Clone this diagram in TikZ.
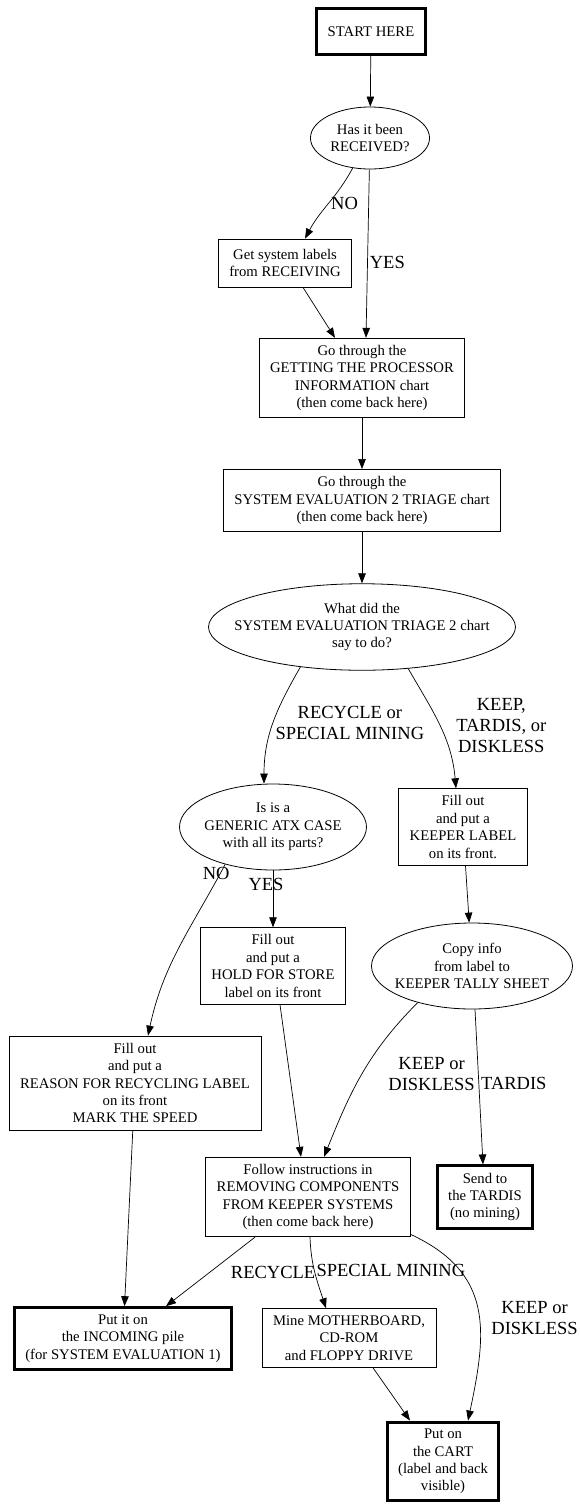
\documentclass[tikz,border=0pt]{standalone}
\usepackage{fontspec}
\setmainfont{Liberation Serif}
\usetikzlibrary{arrows.meta}
\usetikzlibrary{shapes.geometric}
\tikzstyle{ndbox} = [draw, line width=0.8pt, shape=rectangle, align=center, inner xsep=11pt, inner ysep=7pt, minimum height=48pt, font=\fontsize{14.7}{17.4}\selectfont]
\tikzstyle{ndend} = [ndbox, line width=3pt]
\tikzstyle{ndask} = [draw, line width=0.8pt, shape=ellipse, align=center, inner xsep=0pt, inner ysep=6.5pt, font=\fontsize{14.7}{17.4}\selectfont]
\tikzstyle{tuh} = [style={-{Triangle[length=10pt,width=7.5pt]},line width=0.7pt}]
\tikzstyle{lbl} = [align=center, inner sep=2pt, font=\fontsize{18.5}{21}\selectfont]

\begin{document}
\begin{tikzpicture}[x=1pt,y=1pt]
        \useasboundingbox (0,0) rectangle (579,-1508);
        \node[ndend, minimum width=109pt, minimum height=46pt] (start) at (371,-31.5) {START HERE};
        \node[ndask, minimum width=119pt, minimum height=62pt, inner xsep=2.5pt] (received) at (370,-138) {Has it been\\RECEIVED?};
        \node[ndbox] (getlbl) at (285,-263) {Get system labels\\from RECEIVING};
        \node[ndbox] (getting) at (362,-378) {Go through the\\GETTING THE PROCESSOR\\INFORMATION chart\\(then come back here)};
        \node[ndbox] (sevtri) at (362,-500.5) {Go through the\\SYSTEM EVALUATION 2 TRIAGE chart\\(then come back here)};
        \node[ndask, minimum width=307pt, minimum height=86pt, inner xsep=-21pt] (whatdo) at (362,-627) {What did the\\SYSTEM EVALUATION TRIAGE 2 chart\\say to do?};
        \node[ndask, minimum width=187pt, minimum height=86pt, inner xsep=-3.5pt] (atxcase) at (273,-827) {Is is a\\GENERIC ATX CASE\\with all its parts?};
        \node[ndbox] (keeplbl) at (463,-827) {Fill out\\and put a\\KEEPER LABEL\\on its front.};
        \node[ndbox] (holdlbl) at (273,-966) {Fill out\\and put a\\HOLD FOR STORE\\label on its front};
        \node[ndask, minimum width=201pt, minimum height=86pt, inner xsep=-11pt] (tally) at (472,-966) {Copy info\\from label to\\KEEPER TALLY SHEET};
        \node[ndbox] (reason) at (135,-1083) {Fill out\\and put a\\REASON FOR RECYCLING LABEL\\on its front\\MARK THE SPEED};
        \node[ndbox] (follow) at (308,-1197) {Follow instructions in\\REMOVING COMPONENTS\\FROM KEEPER SYSTEMS\\(then come back here)};
        \node[ndend] (tardis) at (485,-1197) {Send to\\the TARDIS\\(no mining)};
        \node[ndend] (incoming) at (123,-1338.5) {Put it on\\the INCOMING pile\\(for SYSTEM EVALUATION 1)};
        \node[ndbox] (mine) at (349,-1338) {Mine MOTHERBOARD,\\CD-ROM\\and FLOPPY DRIVE};
        \node[ndend] (cart) at (443,-1461.5) {Put on\\the CART\\(label and back\\visible)};
        % connectors
        \draw[tuh] (start) -- (received);
        \draw[tuh] (received.-120) to[out=-118,in=62] node[lbl,right,pos=.5] {NO} ([xshift=20pt]getlbl.north);
        \draw[tuh] (received) -- node[lbl,right,pos=.55] {YES} ([xshift=4pt]getting.north);
        \draw[tuh] ([xshift=18pt]getlbl.south) -- ([xshift=-27pt]getting.north);
        \draw[tuh] (getting) -- (sevtri);
        \draw[tuh] (sevtri) -- (whatdo);
        \draw[tuh] (whatdo.-147) to[out=-120,in=90] node[lbl,right,pos=.5] {RECYCLE or\\SPECIAL MINING} ([xshift=-9pt]atxcase.north);
        \draw[tuh] (whatdo.-42) to[out=-60,in=95] node[lbl,right,pos=.5,xshift=14pt] {KEEP,\\TARDIS, or\\DISKLESS} ([xshift=-7pt]keeplbl.north);
        \draw[tuh] (atxcase.-142) to[out=-118,in=78] node[lbl,pos=0,xshift=-9pt,yshift=-9pt] {NO} ([xshift=13pt]reason.north);
        \draw[tuh] (atxcase) -- node[lbl,pos=.25,xshift=-7pt] {YES} (holdlbl);
        \draw[tuh] (keeplbl) -- (tally);
        \draw[tuh] ([xshift=7pt]holdlbl.south) -- ([xshift=-7pt]follow.north);
        \draw[tuh] (tally.-146) to[out=-135,in=68] node[lbl,right,pos=.5,xshift=24pt] {KEEP or\\DISKLESS} ([xshift=16pt]follow.north);
        \draw[tuh] ([xshift=3pt]tally.south) -- node[lbl,right,pos=.48] {TARDIS} ([xshift=-2pt]tardis.north);
        \draw[tuh] (reason) -- (incoming);
        \draw[tuh] ([xshift=-53pt]follow.south) -- node[lbl,right,pos=.51,xshift=19pt] {RECYCLE} ([xshift=43pt]incoming.north);
        \draw[tuh] ([xshift=2pt]follow.south) to[out=-88,in=108] node[lbl,right,pos=.45] {SPECIAL MINING} ([xshift=-23pt]mine.north);
        \draw[tuh] (follow.-20) to[out=-25,in=78,looseness=1.2] node[lbl,right,pos=.55,xshift=10pt] {KEEP or\\DISKLESS} ([xshift=25pt]cart.north);
        \draw[tuh] ([xshift=24pt]mine.south) -- ([xshift=-33pt]cart.north);
      \end{tikzpicture}
\end{document}
